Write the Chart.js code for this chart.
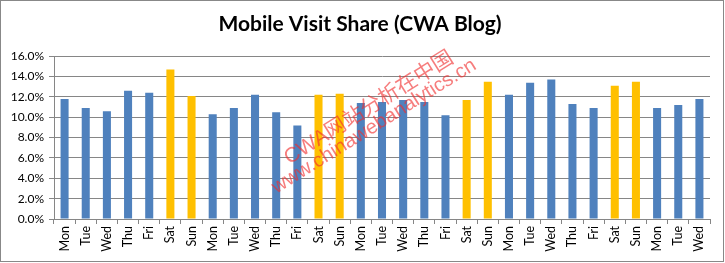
<!DOCTYPE html>
<html>
<head>
<meta charset="utf-8">
<script src="https://cdn.jsdelivr.net/npm/chart.js@4"></script>
<style>
  html, body { margin: 0; padding: 0; background: #fff; }
  #wrap { position: relative; width: 725px; height: 263px; }
  #frame { position: absolute; left: 0; top: 0; width: 722px; height: 260px; border: 1px solid #888; pointer-events: none; }
</style>
</head>
<body>
<div id="wrap">
  <canvas id="chart" width="725" height="263"></canvas>
  <div id="frame"></div>
</div>
<script>
const days = ['Mon', 'Tue', 'Wed', 'Thu', 'Fri', 'Sat', 'Sun',
  'Mon', 'Tue', 'Wed', 'Thu', 'Fri', 'Sat', 'Sun',
  'Mon', 'Tue', 'Wed', 'Thu', 'Fri', 'Sat', 'Sun',
  'Mon', 'Tue', 'Wed', 'Thu', 'Fri', 'Sat', 'Sun',
  'Mon', 'Tue', 'Wed'];

// mobile share per day, in percent
const mobileShare = [11.8, 10.9, 10.6, 12.6, 12.4, 14.7, 12.1,
  10.3, 10.9, 12.2, 10.5, 9.2, 12.2, 12.3,
  11.4, 11.5, 11.7, 11.5, 10.2, 11.7, 13.5,
  12.2, 13.4, 13.7, 11.3, 10.9, 13.1, 13.5,
  10.9, 11.2, 11.8];

const weekdayColor = '#4F81BD';
const weekendColor = '#FFC000';
const gridColor = '#868686';

const watermark = ['CWA网站分析在中国', 'www.chinawebanalytics.cn'];

const barColors = days.map(d => (d === 'Sat' || d === 'Sun') ? weekendColor : weekdayColor);

const watermarkPlugin = {
  id: 'watermark',
  afterDatasetsDraw(c) {
    const ctx = c.ctx;
    ctx.save();
    ctx.fillStyle = 'rgba(240, 45, 45, 0.62)';
    ctx.textAlign = 'center';
    ctx.textBaseline = 'alphabetic';
    const angle = -32 * Math.PI / 180;
    [[372, 113, 21], [377, 131, 20]].forEach((p, i) => {
      ctx.save();
      ctx.font = p[2] + 'px "Liberation Sans", "Noto Sans CJK SC", sans-serif';
      ctx.translate(p[0], p[1]);
      ctx.rotate(angle);
      ctx.fillText(watermark[i], 0, 0);
      ctx.restore();
    });
    ctx.restore();
  }
};

Chart.defaults.font.family = 'Lato, "Liberation Sans", sans-serif';
Chart.defaults.color = '#000';

new Chart(document.getElementById('chart'), {
  type: 'bar',
  data: {
    labels: days,
    datasets: [{
      label: 'Mobile Visit Share',
      data: mobileShare,
      backgroundColor: barColors,
      barPercentage: 0.38,
      categoryPercentage: 1
    }]
  },
  options: {
    responsive: false,
    animation: false,
    layout: { padding: { left: 10, right: 15, top: 5, bottom: 0 } },
    plugins: {
      legend: { display: false },
      tooltip: { enabled: false },
      title: {
        display: true,
        text: 'Mobile Visit Share (CWA Blog)',
        font: { family: 'Lato', size: 21, weight: 'bold' },
        color: '#000',
        padding: { top: 7, bottom: 19 }
      }
    },
    scales: {
      x: {
        grid: { offset: true, drawOnChartArea: false, color: gridColor, tickLength: 5 },
        border: { color: gridColor },
        ticks: { minRotation: 90, maxRotation: 90, autoSkip: false, font: { size: 12.5 }, padding: 2 },
        afterFit(s) { s.height = 44; }
      },
      y: {
        min: 0,
        max: 16,
        ticks: { stepSize: 2, font: { size: 12 }, padding: 5, callback: v => v.toFixed(1) + '%' },
        grid: { color: gridColor, tickLength: 5 },
        border: { color: gridColor },
        afterFit(s) { s.width = 44; }
      }
    }
  },
  plugins: [watermarkPlugin]
});
</script>
</body>
</html>
